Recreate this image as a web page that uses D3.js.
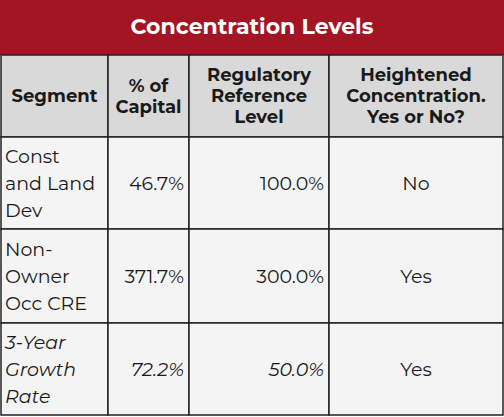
<!DOCTYPE html>
<html><head><meta charset="utf-8">
<script src="https://d3js.org/d3.v7.min.js"></script>
<style>body{margin:0;background:#fff}</style>
</head><body>
<svg id="chart" width="504" height="417"></svg>
<script>
// table data
var title = "Concentration Levels";
var headers = [["Segment"], ["% of", "Capital"], ["Regulatory", "Reference", "Level"], ["Heightened", "Concentration.", "Yes or No?"]];
var segments = [["Const", "and Land", "Dev"], ["Non-", "Owner", "Occ CRE"], ["3-Year", "Growth", "Rate"]];
var pctCapital = ["46.7%", "371.7%", "72.2%"];
var refLevel = ["100.0%", "300.0%", "50.0%"];
var heightened = ["No", "Yes", "Yes"];
var italicRow = [false, false, true];

var svg = d3.select("#chart");
var font = "Montserrat, 'Open Sans', sans-serif";
var colEdges = [1, 108, 189, 329, 503];
var rowEdges = [55, 137, 229, 323, 415];
var colAlign = ["start", "end", "end", "middle"];
var lineH = 27;

svg.append("rect").attr("x", 0).attr("y", 0).attr("width", 504).attr("height", 55).attr("fill", "#a31522");
svg.append("text").attr("x", 252).attr("y", 34).attr("text-anchor", "middle")
    .attr("fill", "#fff").attr("font-family", font).attr("font-weight", "bold").attr("font-size", 22)
    .text(title);

var rows = [{cells: headers, header: true}];
segments.forEach(function(s, i) {
    rows.push({cells: [s, [pctCapital[i]], [refLevel[i]], [heightened[i]]], italic: italicRow[i]});
});

rows.forEach(function(row, r) {
    var y0 = rowEdges[r], y1 = rowEdges[r + 1];
    row.cells.forEach(function(lines, c) {
        var x0 = colEdges[c], x1 = colEdges[c + 1];
        svg.append("rect").attr("x", x0).attr("y", y0).attr("width", x1 - x0).attr("height", y1 - y0)
            .attr("fill", row.header ? "#d9d9d9" : "#f4f4f4").attr("stroke", "#222").attr("stroke-width", 1.5);
        var anchor = row.header ? "middle" : colAlign[c];
        var x = anchor == "middle" ? (x0 + x1) / 2 : anchor == "end" ? x1 - 5 : x0 + 4;
        var lh = row.header ? 21 : lineH;
        var top = (y0 + y1) / 2 - (lines.length - 1) * lh / 2;
        var t = svg.append("text").attr("text-anchor", anchor).attr("fill", "#1a1a1a")
            .attr("font-family", font).attr("font-size", row.header ? 18 : 19)
            .attr("font-weight", row.header ? "bold" : "normal")
            .attr("font-style", row.italic && c < 3 ? "italic" : "normal");
        lines.forEach(function(l, i) {
            t.append("tspan").attr("x", x).attr("y", top + i * lh).attr("dy", "0.35em").text(l);
        });
    });
});
</script>
</body></html>
